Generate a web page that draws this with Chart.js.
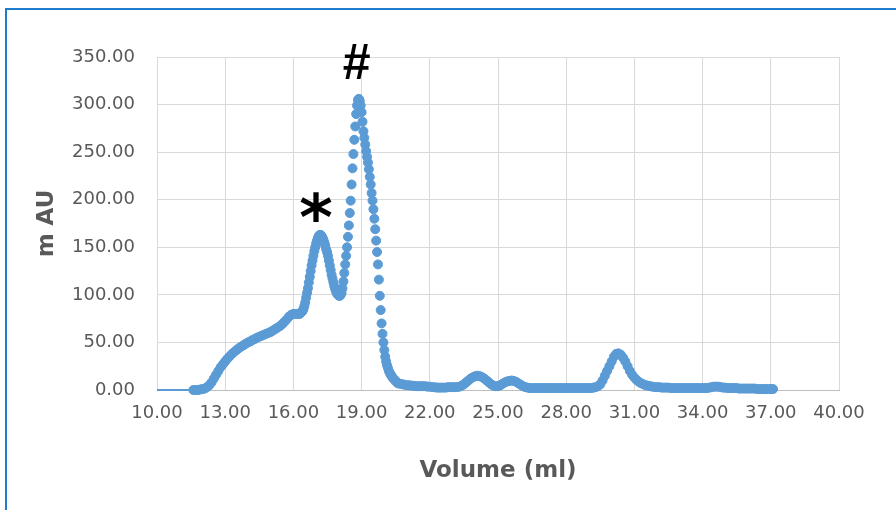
<!DOCTYPE html>
<html>
<head>
<meta charset="utf-8">
<script src="https://cdn.jsdelivr.net/npm/chart.js@4/dist/chart.umd.min.js"></script>
<style>
  html, body { margin: 0; padding: 0; background: #ffffff; overflow: hidden; }
  #wrap { position: relative; width: 896px; height: 510px; }
  #frame { position: absolute; left: 5px; top: 8px; width: 1000px; height: 1000px;
           border: 2px solid #1f7bcd; box-sizing: border-box; pointer-events: none; }
  canvas { position: absolute; left: 0; top: 0; }
</style>
</head>
<body>
<div id="wrap">
  <canvas id="c" width="896" height="510"></canvas>
  <div id="frame"></div>
</div>
<script>
// ---- data ----
const leadVolumes = [10.0, 11.55];
const leadValues  = [0, 0];

const volumes = [
  11.6,11.7,11.8,11.9,12.0,12.1,12.2,12.3,12.4,12.5,
  12.6,12.7,12.8,12.9,13.0,13.1,13.2,13.3,13.4,13.5,
  13.6,13.7,13.8,13.9,14.0,14.1,14.2,14.3,14.4,14.5,
  14.6,14.7,14.8,14.9,15.0,15.1,15.2,15.3,15.4,15.5,
  15.6,15.7,15.8,15.9,16.0,16.1,
  16.20,16.24,16.28,16.32,16.36,16.40,16.44,16.48,16.52,16.56,
  16.60,16.64,16.68,16.72,16.76,16.80,16.84,16.88,16.92,16.96,
  17.00,17.04,17.08,17.12,17.16,17.20,17.24,17.28,17.32,17.36,
  17.40,17.44,17.48,17.52,17.56,17.60,17.64,17.68,17.72,17.76,
  17.80,17.84,17.88,17.92,17.96,18.00,18.04,18.08,18.12,18.16,
  18.20,18.24,18.28,18.32,18.36,18.40,18.44,18.48,18.52,18.56,
  18.60,18.64,18.68,18.72,18.76,18.80,18.84,18.88,18.92,18.96,
  19.00,19.04,19.08,19.12,19.16,19.20,19.24,19.28,19.32,19.36,
  19.40,19.44,19.48,19.52,19.56,19.60,19.64,19.68,19.72,19.76,
  19.80,19.84,19.88,19.92,19.96,20.00,20.04,20.08,20.12,20.16,
  20.20,20.24,20.28,20.32,20.36,20.40,20.44,20.48,20.52,20.56,
  20.60,
  20.7,20.8,20.9,21.0,21.1,21.2,21.3,21.4,21.5,21.6,
  21.7,21.8,21.9,22.0,22.1,22.2,22.3,22.4,22.5,22.6,
  22.7,22.8,22.9,23.0,23.1,23.2,23.3,23.4,23.5,23.6,
  23.7,23.8,23.9,24.0,24.1,24.2,24.3,24.4,24.5,24.6,
  24.7,24.8,24.9,25.0,25.1,25.2,25.3,25.4,25.5,25.6,
  25.7,25.8,25.9,26.0,26.1,26.2,26.3,26.4,26.5,26.6,
  26.7,26.8,26.9,27.0,27.1,27.2,27.3,27.4,27.5,27.6,
  27.7,27.8,27.9,28.0,28.1,28.2,28.3,28.4,28.5,28.6,
  28.7,28.8,28.9,29.0,29.1,29.2,29.3,29.4,29.5,29.6,
  29.7,29.8,29.9,30.0,30.1,30.2,30.3,30.4,30.5,30.6,
  30.7,30.8,30.9,31.0,31.1,31.2,31.3,31.4,31.5,31.6,
  31.7,31.8,31.9,32.0,32.1,32.2,32.3,32.4,32.5,32.6,
  32.7,32.8,32.9,33.0,33.1,33.2,33.3,33.4,33.5,33.6,
  33.7,33.8,33.9,34.0,34.1,34.2,34.3,34.4,34.5,34.6,
  34.7,34.8,34.9,35.0,35.1,35.2,35.3,35.4,35.5,35.6,
  35.7,35.8,35.9,36.0,36.1,36.2,36.3,36.4,36.5,36.6,
  36.7,36.8,36.9,37.0,37.1
];

const mAU = [
  0,0,0,0.5,1,1.5,3,5,8,12,
  16,20,24,27,30,33,35.5,38,40,42,
  44,45.5,47,48.5,50,51,52.5,53.5,55,56,
  57,58,59,60,61,62.5,64,65.5,67,69,
  71.5,74,77,79,80,80,
  80,80,80,81,82,83,85,88,92,97,
  102,107,113,119,125,131,136,141,146,150,
  154,157,160,162,163,163,162,160,158,155,
  152,148,145,141,136,131,126,121,117,113,
  109,106,103,101,100,99,99,100,102,107,
  114,123,132,141,150,161,173,186,199,216,
  233,248,263,277,290,299,305,306,304,299,
  292,282,272,265,258,251,245,239,232,224,
  216,207,199,190,180,169,157,145,132,116,
  99,84,70,59,50,42,35,30,26,23,
  20,18,16,15,13,12,11,10,9,8,
  7,
  6.5,6,5.5,5,5,4.5,4.5,4,4,4,
  4,4,3.5,3.5,3,3,2.5,2.5,2.5,2.5,
  2.5,3,3,3,3,3,3.5,4.5,6,8,
  10,12,13.5,14.5,15,14.5,13.5,12,10,8,
  6,4.5,4,4,5,6.5,8,9,9.5,10,
  9.5,8.5,7,5.5,4,3,2.5,2,2,2,
  2,2,2,2,2,2,2,2,2,2,
  2,2,2,2,2,2,2,2,2,2,
  2,2,2,2,2,2.5,3,4,6,10,
  15,20,25,30,35,38,38.5,37,34,30,
  25,20,16,13,10.5,8.5,7,6,5,4.5,
  4,3.5,3,3,3,2.5,2.5,2.5,2.5,2,
  2,2,2,2,2,2,2,2,2,2,
  2,2,2,2,2,2,2.5,3,3.5,3.5,
  3.5,3,2.5,2.5,2,2,2,2,2,1.5,
  1.5,1.5,1.5,1.5,1.5,1.5,1.5,1,1,1,
  1,1,1,1,1
];

const xTickValues = [10, 13, 16, 19, 22, 25, 28, 31, 34, 37, 40];
const yTickValues = [0, 50, 100, 150, 200, 250, 300, 350];
const xTitle = 'Volume (ml)';
const yTitle = 'm AU';
const peakMarks = [
  { text: '#', x: 18.76, y: 345 },
  { text: '*', x: 17.0,  y: 192 }
];

// ---- chart ----
const mainPoints = volumes.map((v, i) => ({ x: v, y: mAU[i] }));
const leadPoints = leadVolumes.map((v, i) => ({ x: v, y: leadValues[i] }));

const markFonts = {
  '#': 'bold 50px "Liberation Sans"',
  '*': 'bold 64px "DejaVu Sans"'
};

const peakMarkPlugin = {
  id: 'peakMarks',
  afterDatasetsDraw(chart) {
    const ctx = chart.ctx;
    const xs = chart.scales.x, ys = chart.scales.y;
    ctx.save();
    ctx.fillStyle = '#000000';
    ctx.textAlign = 'left';
    ctx.textBaseline = 'alphabetic';
    peakMarks.forEach(m => {
      ctx.font = markFonts[m.text] || '50px "Liberation Sans"';
      const px = xs.getPixelForValue(m.x);
      const py = ys.getPixelForValue(m.y);
      const t = ctx.measureText(m.text);
      const h = t.actualBoundingBoxAscent + t.actualBoundingBoxDescent;
      const x = px - (t.actualBoundingBoxRight - t.actualBoundingBoxLeft) / 2;
      const y = py + t.actualBoundingBoxAscent - h / 2;
      ctx.fillText(m.text, x, y);
    });
    ctx.restore();
  }
};

const tickFont = { family: '"DejaVu Sans"', size: 18 };
const titleFont = { family: '"DejaVu Sans"', size: 23, weight: 'bold' };

new Chart(document.getElementById('c'), {
  type: 'scatter',
  data: {
    datasets: [
      {
        data: leadPoints,
        showLine: true,
        borderColor: '#5B9BD5',
        borderWidth: 2,
        pointRadius: 0,
        clip: false
      },
      {
        data: mainPoints,
        showLine: false,
        backgroundColor: '#5B9BD5',
        borderColor: '#5B9BD5',
        pointRadius: 4.5,
        pointBorderWidth: 1,
        clip: false
      }
    ]
  },
  options: {
    responsive: false,
    animation: false,
    devicePixelRatio: 1,
    layout: { padding: { left: 0, top: 57, right: 57, bottom: 0 } },
    plugins: { legend: { display: false }, tooltip: { enabled: false } },
    events: [],
    scales: {
      x: {
        type: 'linear',
        min: 10, max: 40,
        afterBuildTicks: s => { s.ticks = xTickValues.map(v => ({ value: v })); },
        afterFit: s => { s.height = 120; },
        ticks: {
          callback: v => Number(v).toFixed(2),
          font: tickFont, color: '#595959', padding: 13, maxRotation: 0, autoSkip: false
        },
        grid: { color: '#d9d9d9', lineWidth: 1, drawTicks: false },
        border: { display: true, color: '#bfbfbf', width: 1 },
        title: { display: true, text: xTitle, font: titleFont, color: '#595959',
                 padding: { top: 0, bottom: 25 } }
      },
      y: {
        type: 'linear',
        min: 0, max: 350,
        afterBuildTicks: s => { s.ticks = yTickValues.map(v => ({ value: v })); },
        afterFit: s => { s.width = 157; },
        ticks: {
          callback: v => Number(v).toFixed(2),
          font: tickFont, color: '#595959', padding: 22, autoSkip: false
        },
        grid: { color: '#d9d9d9', lineWidth: 1, drawTicks: false },
        border: { display: true, color: '#d9d9d9', width: 1 },
        title: { display: true, text: yTitle, font: titleFont, color: '#595959',
                 padding: { top: 33, bottom: 0 } }
      }
    }
  },
  plugins: [peakMarkPlugin]
});
</script>
</body>
</html>
